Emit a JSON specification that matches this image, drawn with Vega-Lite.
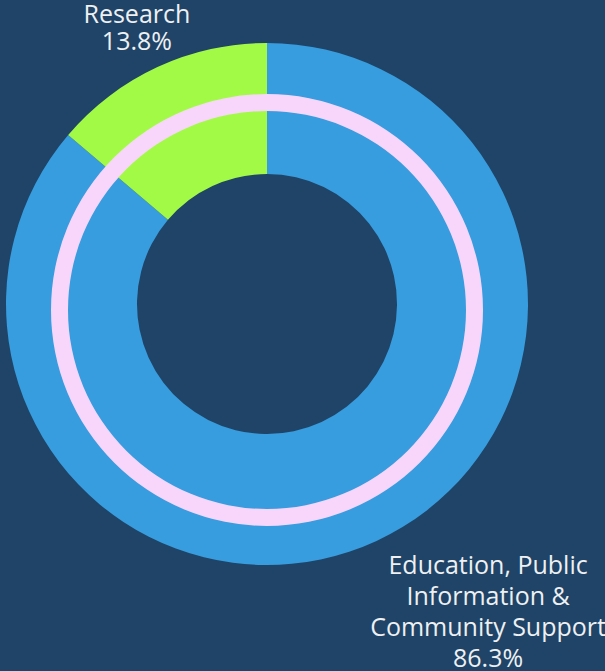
{
  "$schema": "https://vega.github.io/schema/vega-lite/v6.json",
  "width": 534,
  "height": 608,
  "autosize": {"type": "none"},
  "padding": {"left": 0, "top": 0, "right": 71, "bottom": 63},
  "background": "#1f4467",
  "config": {"view": {"stroke": null}, "text": {"font": "Open Sans"}},
  "data": {
    "values": [
      {"category": "Education, Public Information & Community Support", "value": 86.3, "order": 1, "label": "Education, Public\nInformation &\nCommunity Support\n86.3%"},
      {"category": "Research", "value": 13.8, "order": 2, "label": "Research\n13.8%"}
    ]
  },
  "layer": [
    {
      "mark": {"type": "arc", "radius": 261, "radius2": 130},
      "encoding": {
        "theta": {"field": "value", "type": "quantitative", "stack": true},
        "order": {"field": "order", "type": "quantitative"},
        "color": {
          "field": "category",
          "type": "nominal",
          "scale": {"domain": ["Education, Public Information & Community Support", "Research"], "range": ["#379dde", "#a3fa46"]},
          "legend": null
        }
      }
    },
    {
      "transform": [{"aggregate": [{"op": "sum", "field": "value", "as": "total"}]}],
      "mark": {"type": "arc", "radius": 216, "radius2": 199, "color": "#f8d6fc", "yOffset": 6},
      "encoding": {
        "theta": {"field": "total", "type": "quantitative"}
      }
    },
    {
      "mark": {"type": "text", "radius": 310, "fontSize": 25, "lineHeight": 27, "lineBreak": "\n", "align": "center", "baseline": "alphabetic", "color": "#eef0f2"},
      "encoding": {
        "theta": {"field": "value", "type": "quantitative", "stack": true},
        "order": {"field": "order", "type": "quantitative"},
        "detail": {"field": "category", "type": "nominal"},
        "text": {"condition": {"test": "datum.category === 'Research'", "field": "label"}, "value": ""}
      }
    },
    {
      "mark": {"type": "text", "radius": 298, "dx": 96, "fontSize": 25, "lineHeight": 31, "lineBreak": "\n", "align": "center", "baseline": "alphabetic", "color": "#eef0f2"},
      "encoding": {
        "theta": {"field": "value", "type": "quantitative", "stack": true},
        "order": {"field": "order", "type": "quantitative"},
        "detail": {"field": "category", "type": "nominal"},
        "text": {"condition": {"test": "datum.category !== 'Research'", "field": "label"}, "value": ""}
      }
    }
  ]
}
